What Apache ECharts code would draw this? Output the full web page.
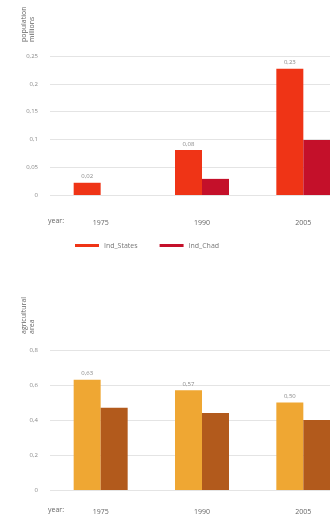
<!DOCTYPE html>
<html>
<head>
<meta charset="UTF-8">
<title>chart</title>
<style>
  html, body { margin: 0; padding: 0; background: #fff; }
  #main { width: 330px; height: 519px; }
</style>
</head>
<body>
<div id="main"></div>
<script src="https://cdn.jsdelivr.net/npm/echarts@6/dist/echarts.min.js"></script>
<script>
var years = ['1975', '1990', '2005'];
// top chart
var topNames = ['Ind_States', 'Ind_Chad'];
var topA = [0.022, 0.081, 0.227];
var topB = [0, 0.029, 0.099];
var topTicks = [0, 0.05, 0.1, 0.15, 0.2, 0.25];
// bottom chart
var botA = [0.63, 0.57, 0.50];
var botB = [0.47, 0.44, 0.40];
var botTicks = [0, 0.2, 0.4, 0.6, 0.8];

function comma(v) {
  return String(v).replace('.', ',');
}
function label2(p) {
  return p.value.toFixed(2).replace('.', ',');
}

var chart = echarts.init(document.getElementById('main'));
var txt = '#8a8a8a';
var font = 'Open Sans';

function xAxisOf(idx, margin) {
  return {
    type: 'category',
    gridIndex: idx,
    data: years,
    name: 'year:',
    nameLocation: 'start',
    nameGap: 2,
    nameTextStyle: { color: '#666', fontSize: 7, fontFamily: font, align: 'left', verticalAlign: 'top', padding: [margin - 2, 0, 0, 0] },
    axisLine: { show: false },
    axisTick: { show: false },
    axisLabel: { color: '#666', fontSize: 7, fontFamily: font, margin: margin }
  };
}
function yAxisOf(idx, ticks) {
  return {
    type: 'value',
    gridIndex: idx,
    min: 0,
    max: ticks[ticks.length - 1],
    interval: ticks[1] - ticks[0],
    axisLine: { show: false },
    axisTick: { show: false },
    axisLabel: { color: txt, fontSize: 6, fontFamily: font, margin: 12, formatter: comma },
    splitLine: { lineStyle: { color: '#e4e4e4', width: 1 } }
  };
}

var option = {
  backgroundColor: '#fff',
  animation: false,
  grid: [
    { left: 50, top: 56, width: 304, height: 139, outerBoundsMode: 'none' },
    { left: 50, top: 350, width: 304, height: 140, outerBoundsMode: 'none' }
  ],
  legend: {
    data: topNames,
    left: 70,
    top: 237,
    icon: 'rect',
    itemWidth: 24,
    itemHeight: 3,
    itemGap: 22,
    textStyle: { color: '#777', fontSize: 7, fontFamily: font }
  },
  graphic: [
    { type: 'text', x: 20, y: 42, rotation: Math.PI / 2,
      style: { text: 'population\nmillions', fill: '#666', font: '7px "Open Sans"', lineHeight: 8 } },
    { type: 'text', x: 20, y: 334, rotation: Math.PI / 2,
      style: { text: 'agricultural\narea', fill: '#666', font: '7px "Open Sans"', lineHeight: 8 } }
  ],
  xAxis: [xAxisOf(0, 24), xAxisOf(1, 18)],
  yAxis: [yAxisOf(0, topTicks), yAxisOf(1, botTicks)],
  series: [
    { name: topNames[0], type: 'bar', xAxisIndex: 0, yAxisIndex: 0, data: topA,
      barWidth: 27, barGap: '0%', itemStyle: { color: '#ef3416' },
      label: { show: true, position: 'top', distance: 3, color: txt, fontSize: 6, fontFamily: font, formatter: label2 } },
    { name: topNames[1], type: 'bar', xAxisIndex: 0, yAxisIndex: 0, data: topB,
      barWidth: 27, barGap: '0%', itemStyle: { color: '#c4102a' } },
    { name: 'a', type: 'bar', xAxisIndex: 1, yAxisIndex: 1, data: botA,
      barWidth: 27, barGap: '0%', itemStyle: { color: '#efa733' },
      label: { show: true, position: 'top', distance: 3, color: txt, fontSize: 6, fontFamily: font, formatter: label2 } },
    { name: 'b', type: 'bar', xAxisIndex: 1, yAxisIndex: 1, data: botB,
      barWidth: 27, barGap: '0%', itemStyle: { color: '#b25a1c' } }
  ]
};
chart.setOption(option);
</script>
</body>
</html>
